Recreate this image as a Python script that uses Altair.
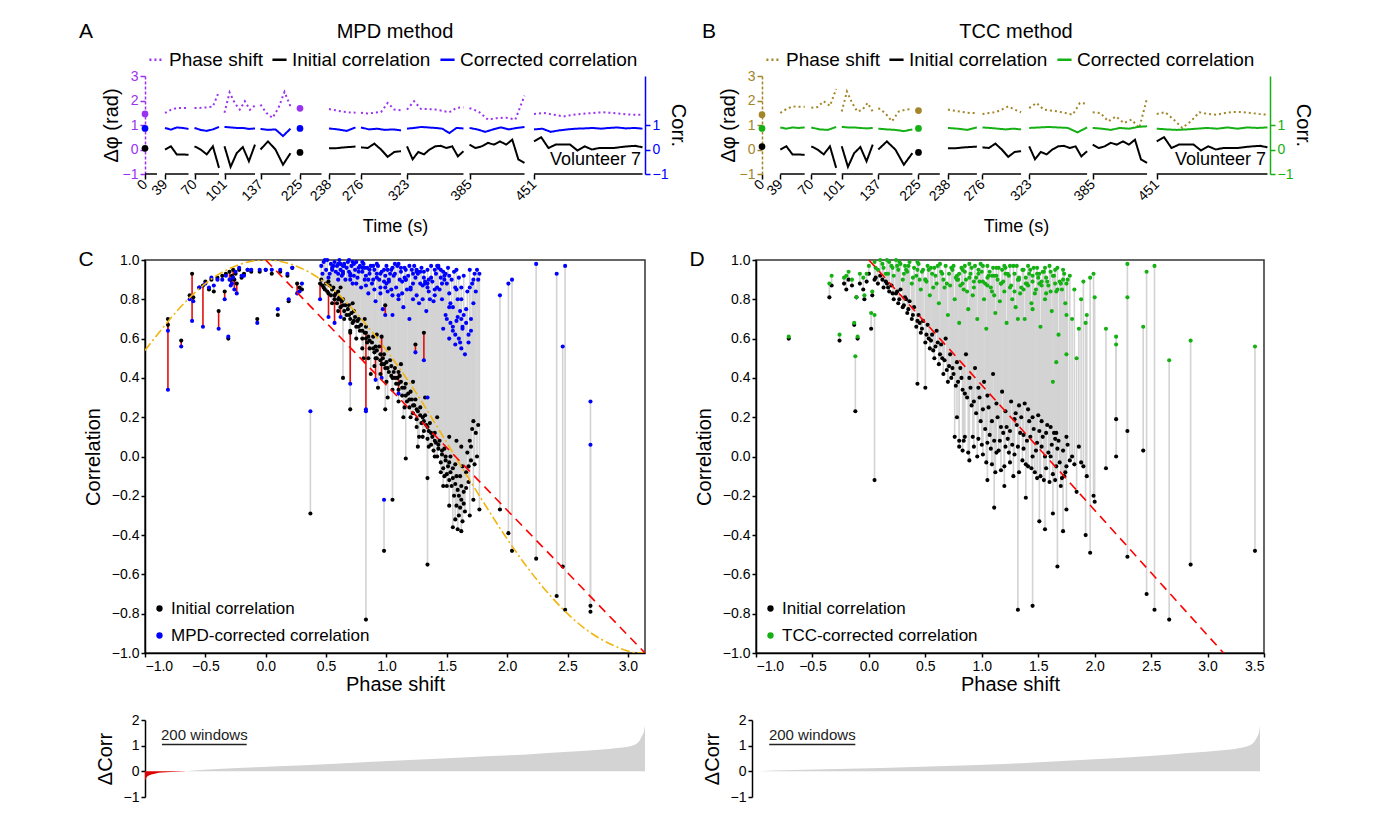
import altair as alt
import pandas as pd

FONT = "Liberation Sans"
PURPLE = "#9a33f0"
BLUE = "#0000ff"
GOLD = "#a3852a"
GREEN = "#14b014"
LGRAY = "#d3d3d3"
RED = "#e01010"
ORANGE = "#f2b50f"

# ---------------- Panels A / B : time series ----------------
SERIES = ["Phase shift", "Initial correlation", "Corrected correlation"]
time_labels = ["0", "39", "70", "101", "137", "225", "238", "276", "323", "385", "451"]
segA_start = [0, 40, 99, 159, 231, 310, 368, 432, 524, 649, 778]
segA_end = [24, 87, 148, 220, 291, 353, 421, 512, 637, 759, 995]
segB_start = [0, 36, 97, 157, 229, 308, 366, 434, 526, 651, 777]
segB_end = [0, 84, 146, 218, 296, 350, 423, 510, 640, 758, 995]

phaseA = [
    [1.45],
    [1.49, 1.62, 1.69, 1.69, 1.70],
    [1.69, 1.70, 1.72, 1.75, 2.37],
    [1.50, 2.33, 1.90, 1.63, 1.97, 1.62, 1.80],
    [1.83, 1.49, 1.29, 1.70, 2.35, 1.76],
    [1.68],
    [1.65, 1.60, 1.55, 1.52, 1.50],
    [1.50, 1.47, 1.50, 1.53, 1.90, 1.63, 1.60],
    [1.63, 1.97, 1.65, 1.65, 1.63, 1.58, 1.52, 1.70, 1.72],
    [1.69, 1.55, 1.22, 1.28, 1.30, 1.22, 2.20],
    [1.45, 1.49, 1.42, 1.35, 1.42, 1.46, 1.49, 1.52, 1.49, 1.45, 1.42, 1.42],
]
initA = [
    [0.05],
    [0.0, 0.13, -0.20, -0.20, -0.22],
    [0.13, 0.0, -0.20, 0.13, -0.75],
    [0.13, -0.71, -0.15, 0.10, -0.48, 0.20],
    [0.0, 0.33, 0.0, -0.62, -0.15],
    [-0.12],
    [0.05, 0.05, 0.08, 0.10, 0.12],
    [0.09, 0.06, 0.24, 0.0, -0.30, -0.10, -0.07],
    [0.13, -0.40, -0.10, -0.20, 0.0, 0.13, 0.15, 0.06, 0.13, -0.28, -0.07],
    [0.20, 0.06, 0.13, 0.27, 0.20, 0.33, 0.20, 0.40, -0.41, -0.55],
    [0.33, 0.50, 0.06, 0.20, 0.20, 0.20, -0.04, 0.13, 0.0, 0.06, 0.06, 0.06, 0.10, 0.13, 0.15, 0.09],
]
corrA = [
    [0.86],
    [0.88, 0.81, 0.90, 0.88, 0.84],
    [0.88, 0.80, 0.76, 0.82, 0.92],
    [0.92, 0.90, 0.88, 0.88, 0.84, 0.86],
    [0.84, 0.80, 0.82, 0.55, 0.85],
    [0.86],
    [0.86, 0.82, 0.76, 0.90],
    [0.90, 0.82, 0.85, 0.80, 0.82, 0.78],
    [0.85, 0.88, 0.92, 0.90, 0.88, 0.85, 0.67, 0.88, 0.86],
    [0.88, 0.82, 0.72, 0.82, 0.90, 0.82, 0.88, 0.92],
    [0.82, 0.85, 0.72, 0.78, 0.82, 0.85, 0.86, 0.88, 0.85, 0.88, 0.90, 0.86, 0.88, 0.85],
]
phaseB = [
    [1.42],
    [1.49, 1.65, 1.76, 1.74, 1.74],
    [1.70, 1.73, 1.97, 1.78, 2.47],
    [1.55, 2.37, 1.90, 1.55, 1.62, 1.90, 1.55],
    [1.69, 1.49, 1.15, 1.55, 1.63, 1.65],
    [1.59],
    [1.63, 1.58, 1.53, 1.49, 1.49],
    [1.45, 1.49, 1.52, 1.63, 1.76, 1.63, 1.52],
    [1.69, 1.90, 1.63, 1.59, 1.55, 1.49, 1.42, 1.90, 1.87],
    [1.52, 1.49, 1.15, 1.35, 1.08, 1.22, 0.88, 2.10],
    [1.45, 1.52, 1.22, 0.88, 1.15, 1.52, 1.45, 1.42, 1.49, 1.53, 1.53, 1.49, 1.45, 1.42],
]
initB = [[0.12]] + initA[1:]
corrB = [
    [0.86],
    [0.90, 0.85, 0.90, 0.88, 0.90],
    [0.90, 0.82, 0.80, 0.92],
    [0.92, 0.90, 0.90, 0.88, 0.86, 0.88],
    [0.85, 0.82, 0.80, 0.75, 0.82],
    [0.86],
    [0.88, 0.85, 0.80, 0.90],
    [0.90, 0.88, 0.85, 0.82, 0.85, 0.82],
    [0.88, 0.90, 0.92, 0.90, 0.88, 0.70, 0.90],
    [0.88, 0.85, 0.80, 0.88, 0.85, 0.92, 0.95],
    [0.85, 0.82, 0.80, 0.82, 0.85, 0.88, 0.85, 0.90, 0.85, 0.90, 0.88, 0.90],
]

# ---------------- Panels C / D : (phase shift, initial corr, corrected corr) ----------------
C_arc = [
    (-0.81, 0.70, 0.64), (-0.81, 0.67, 0.34), (-0.70, 0.59, 0.56), (-0.63, 0.82, 0.80),
    (-0.61, 0.93, 0.69), (-0.60, 0.81, 0.79), (-0.55, 0.86, 0.86), (-0.52, 0.87, 0.66),
    (-0.50, 0.89, 0.88), (-0.47, 0.85, 0.86), (-0.45, 0.90, 0.91), (-0.43, 0.84, 0.87),
    (-0.40, 0.91, 0.90), (-0.39, 0.74, 0.65), (-0.36, 0.92, 0.90), (-0.34, 0.84, 0.80),
    (-0.33, 0.93, 0.92), (-0.31, 0.60, 0.61), (-0.30, 0.94, 0.90), (-0.29, 0.90, 0.87),
    (-0.28, 0.92, 0.88), (-0.27, 0.95, 0.91), (-0.26, 0.90, 0.85), (-0.25, 0.93, 0.94),
    (-0.24, 0.88, 0.83), (-0.22, 0.95, 0.96), (-0.20, 0.91, 0.92), (-0.18, 0.93, 0.92),
    (-0.15, 0.95, 0.95), (-0.12, 0.94, 0.95), (-0.07, 0.70, 0.68), (-0.05, 0.94, 0.95),
    (0.00, 0.95, 0.95), (0.05, 0.93, 0.95), (0.10, 0.72, 0.75), (0.12, 0.94, 0.95),
    (0.18, 0.92, 0.93), (0.19, 0.79, 0.80), (0.22, 0.96, 0.96), (0.26, 0.88, 0.83),
    (0.28, 0.86, 0.84), (0.30, 0.85, 0.88),
]
C_band = [
    (0.46, 0.90, 0.97), (0.48, 0.86, 0.99), (0.50, 0.88, 0.95), (0.51, 0.84, 1.00),
    (0.53, 0.87, 0.93), (0.54, 0.82, 0.98), (0.55, 0.85, 0.96), (0.57, 0.80, 0.99),
    (0.58, 0.83, 0.94), (0.59, 0.78, 0.97), (0.61, 0.81, 1.00), (0.62, 0.76, 0.95),
    (0.63, 0.79, 0.92), (0.65, 0.74, 0.98), (0.66, 0.77, 0.90), (0.67, 0.72, 0.96),
    (0.68, 0.75, 0.99), (0.70, 0.70, 0.93), (0.71, 0.73, 0.97), (0.72, 0.68, 0.88),
    (0.74, 0.71, 0.95), (0.75, 0.66, 0.99), (0.76, 0.69, 0.91), (0.78, 0.64, 0.97),
    (0.79, 0.67, 0.86), (0.80, 0.60, 0.94), (0.81, 0.50, 0.98), (0.82, 0.63, 0.90),
    (0.84, 0.58, 0.96), (0.85, 0.61, 0.83), (0.86, 0.55, 0.93), (0.87, 0.42, 0.97),
    (0.88, 0.58, 0.88), (0.90, 0.53, 0.95), (0.91, 0.56, 0.79), (0.92, 0.50, 0.91),
    (0.93, 0.35, 0.97), (0.95, 0.52, 0.86), (0.96, 0.47, 0.94), (0.97, 0.50, 0.75),
    (0.99, 0.45, 0.92), (1.00, 0.48, 0.97), (1.01, 0.30, 0.84), (1.02, 0.43, 0.89),
    (1.04, 0.46, 0.95), (1.05, 0.40, 0.72), (1.06, 0.43, 0.92), (1.08, 0.37, 0.86),
    (1.09, 0.40, 0.97), (1.10, 0.34, 0.80), (1.12, 0.38, 0.94), (1.13, 0.31, 0.89),
    (1.14, 0.20, 0.76), (1.15, 0.35, 0.96), (1.17, 0.28, 0.85), (1.18, 0.32, 0.92),
    (1.19, 0.25, 0.70), (1.21, 0.29, 0.95), (1.22, 0.22, 0.88), (1.23, 0.26, 0.97),
    (1.25, 0.19, 0.82), (1.26, 0.23, 0.93), (1.27, 0.10, 0.78), (1.29, 0.17, 0.96),
    (1.30, 0.20, 0.87), (1.31, 0.13, 0.91), (1.33, 0.16, 0.74), (1.34, 0.09, 0.95),
    (1.35, 0.13, 0.84), (1.37, 0.06, 0.97), (1.38, 0.10, 0.89), (1.39, 0.03, 0.79),
    (1.41, 0.07, 0.93), (1.42, 0.00, 0.86), (1.43, 0.04, 0.97), (1.45, -0.03, 0.91),
    (1.46, 0.01, 0.80), (1.47, -0.06, 0.94), (1.49, -0.02, 0.72), (1.50, -0.09, 0.88),
    (1.51, -0.05, 0.96), (1.52, -0.12, 0.83), (1.53, -0.08, 0.68), (1.54, -0.15, 0.90),
    (1.55, -0.11, 0.76), (1.56, -0.20, 0.94), (1.57, -0.14, 0.62), (1.58, -0.25, 0.85),
    (1.59, -0.17, 0.71), (1.60, -0.30, 0.91), (1.61, -0.10, 0.58), (1.62, -0.22, 0.80),
    (1.63, -0.05, 0.66), (1.64, -0.18, 0.92), (1.65, -0.28, 0.52), (1.66, -0.08, 0.75),
    (1.67, 0.02, 0.84), (1.68, -0.13, 0.62), (1.69, 0.08, 0.95), (1.70, -0.02, 0.70),
    (1.71, 0.14, 0.88), (1.72, 0.18, 0.78), (1.73, -0.04, 0.93), (1.74, 0.12, 0.84),
    (1.75, 0.00, 0.95), (1.76, 0.16, 0.90),
    (0.52, 0.89, 0.91), (0.56, 0.86, 0.97), (0.60, 0.84, 0.93), (0.64, 0.80, 0.97),
    (0.69, 0.77, 0.94), (0.73, 0.74, 0.98), (0.77, 0.70, 0.96), (0.83, 0.66, 0.92),
    (0.89, 0.61, 0.97), (0.94, 0.56, 0.90), (0.98, 0.52, 0.95), (1.03, 0.49, 0.93),
    (1.07, 0.45, 0.98), (1.11, 0.41, 0.90), (1.16, 0.37, 0.95), (1.20, 0.33, 0.85),
    (1.24, 0.29, 0.91), (1.28, 0.25, 0.94), (1.32, 0.21, 0.88), (1.36, 0.17, 0.80),
    (1.40, 0.12, 0.95), (1.44, 0.08, 0.85), (1.48, 0.04, 0.90), (1.53, 0.00, 0.78),
    (1.57, -0.04, 0.86), (1.61, -0.26, 0.74), (1.63, -0.33, 0.65), (1.59, -0.37, 0.80),
    (1.62, -0.38, 0.70),
    (0.47, 0.87, 0.93), (0.49, 0.85, 1.00), (0.60, 0.80, 0.98), (0.64, 0.77, 0.94),
    (0.69, 0.72, 1.00), (0.73, 0.69, 0.92), (0.77, 0.66, 0.94), (0.80, 0.64, 0.99),
    (0.83, 0.60, 0.87), (0.86, 0.59, 0.95), (0.89, 0.55, 0.90), (0.92, 0.54, 0.98),
    (0.95, 0.49, 0.83), (0.98, 0.47, 0.89), (1.01, 0.45, 0.95), (1.04, 0.41, 0.85),
    (1.07, 0.40, 0.93), (1.10, 0.37, 0.98), (1.13, 0.35, 0.83), (1.16, 0.31, 0.90),
    (1.19, 0.29, 0.97), (1.22, 0.26, 0.80), (1.25, 0.24, 0.95), (1.28, 0.21, 0.88),
    (1.31, 0.18, 0.94), (1.34, 0.15, 0.86), (1.37, 0.12, 0.91), (1.40, 0.08, 0.82),
    (1.43, 0.06, 0.96), (1.46, 0.03, 0.88), (1.49, 0.00, 0.93), (1.52, -0.03, 0.76),
    (1.55, -0.06, 0.64), (1.58, -0.10, 0.69), (1.60, -0.20, 0.60), (1.62, -0.15, 0.55),
    (1.64, -0.24, 0.72), (1.66, -0.16, 0.68), (1.68, -0.05, 0.58), (1.70, 0.05, 0.64),
    (1.57, -0.32, 0.57), (1.55, -0.36, 0.66), (1.52, -0.25, 0.60), (1.47, -0.15, 0.65),
    (0.55, 0.78, 0.95), (0.60, 0.74, 0.90), (0.65, 0.70, 0.97), (0.70, 0.64, 0.92),
    (0.75, 0.60, 0.88), (0.80, 0.55, 0.96), (0.85, 0.50, 0.90), (0.90, 0.46, 0.85),
    (0.95, 0.42, 0.93), (1.00, 0.38, 0.88), (1.05, 0.34, 0.96), (1.10, 0.28, 0.82),
    (1.15, 0.25, 0.91), (1.20, 0.20, 0.86), (1.25, 0.15, 0.94), (1.30, 0.10, 0.80),
    (1.35, 0.05, 0.90), (1.40, 0.00, 0.85), (1.45, -0.08, 0.95), (1.50, -0.15, 0.70),
    (0.62, 0.86, 0.98), (0.72, 0.78, 0.99), (0.82, 0.70, 0.96), (0.92, 0.62, 0.93),
    (1.02, 0.55, 0.90), (1.12, 0.47, 0.96), (1.22, 0.38, 0.93), (1.32, 0.30, 0.89),
    (1.42, 0.20, 0.97), (1.52, 0.10, 0.92), (1.62, 0.05, 0.86), (1.58, 0.08, 0.95),
]
C_worse = [
    (0.45, 0.88, 0.80), (0.52, 0.83, 0.71), (0.57, 0.82, 0.68), (0.62, 0.80, 0.71),
    (0.70, 0.63, 0.37), (0.83, 0.63, 0.23), (0.91, 0.50, 0.39), (0.96, 0.61, 0.40),
    (0.99, 0.77, 0.72), (1.10, 0.43, 0.32), (1.24, 0.57, 0.53), (1.31, 0.63, 0.49),
]
C_outliers = [
    (0.37, -0.29, 0.23), (0.83, -0.83, 0.24), (0.98, -0.48, -0.22), (1.05, -0.22, 0.82),
    (0.64, 0.40, 0.93), (0.70, 0.24, 0.90), (0.99, 0.24, 0.86), (1.16, -0.01, 0.90),
    (1.26, 0.05, 0.94), (1.34, -0.55, 0.30), (1.34, -0.11, 0.88), (1.48, -0.10, 0.92),
    (1.69, -0.30, 0.86), (1.72, -0.22, 0.90), (1.77, -0.27, 0.93),
    (1.94, -0.27, 0.82), (2.01, -0.39, 0.88), (2.04, -0.48, 0.90), (2.24, -0.52, 0.98),
    (2.41, -0.71, 0.93), (2.46, -0.56, 0.56), (2.48, -0.78, 0.97), (2.69, -0.76, 0.28),
    (2.69, -0.79, 0.06),
]

D_left = [
    (-0.71, 0.60, 0.61), (-0.35, 0.81, 0.88), (-0.33, 0.87, 0.92), (-0.26, 0.59, 0.62),
    (-0.22, 0.88, 0.91), (-0.20, 0.85, 0.92), (-0.18, 0.90, 0.94), (-0.15, 0.87, 0.90),
    (-0.13, 0.67, 0.68), (-0.12, 0.23, 0.51), (-0.11, 0.81, 0.81), (-0.10, 0.60, 0.61),
    (-0.08, 0.88, 0.93), (-0.05, 0.85, 0.91), (-0.02, 0.89, 0.93), (0.02, 0.65, 0.73),
    (0.05, -0.12, 0.72), (-0.04, 0.80, 0.82), (0.03, 0.82, 0.84),
]
D_band = [
    (0.00, 0.93, 0.97), (0.05, 0.90, 0.99), (0.08, 0.88, 0.95), (0.10, 0.92, 1.00),
    (0.13, 0.86, 0.96), (0.15, 0.89, 0.93), (0.18, 0.84, 0.99), (0.20, 0.87, 0.97),
    (0.22, 0.80, 0.92), (0.24, 0.83, 1.00), (0.26, 0.78, 0.95), (0.28, 0.85, 0.98),
    (0.30, 0.76, 0.90), (0.32, 0.81, 0.97), (0.34, 0.73, 0.94), (0.36, 0.79, 0.99),
    (0.38, 0.70, 0.88), (0.40, 0.76, 0.96), (0.42, 0.66, 0.92), (0.44, 0.72, 0.98),
    (0.46, 0.63, 0.85), (0.48, 0.69, 0.95), (0.50, 0.58, 0.90), (0.52, 0.67, 0.97),
    (0.54, 0.55, 0.82), (0.56, 0.62, 0.93), (0.58, 0.50, 0.96), (0.60, 0.64, 0.88),
    (0.62, 0.47, 0.78), (0.64, 0.57, 0.94), (0.66, 0.42, 0.90), (0.68, 0.60, 0.97),
    (0.70, 0.38, 0.72), (0.72, 0.52, 0.87), (0.74, 0.45, 0.95), (0.76, 0.10, 0.80),
    (0.78, 0.48, 0.92), (0.80, 0.05, 0.68), (0.82, 0.40, 0.96), (0.84, 0.08, 0.85),
    (0.86, 0.52, 0.90), (0.88, 0.02, 0.75), (0.90, 0.35, 0.93), (0.92, 0.10, 0.82),
    (0.94, 0.45, 0.97), (0.96, 0.00, 0.70), (0.98, 0.30, 0.89), (1.00, 0.06, 0.94),
    (1.02, 0.38, 0.80), (1.04, -0.03, 0.65), (1.06, 0.25, 0.92), (1.08, 0.04, 0.86),
    (1.10, 0.42, 0.96), (1.12, -0.08, 0.73), (1.14, 0.20, 0.90), (1.16, 0.08, 0.79),
    (1.18, 0.33, 0.95), (1.20, -0.05, 0.84), (1.22, 0.15, 0.68), (1.24, 0.02, 0.92),
    (1.26, 0.28, 0.87), (1.28, -0.10, 0.97), (1.30, 0.22, 0.76), (1.32, 0.05, 0.90),
    (1.34, 0.12, 0.83), (1.36, -0.02, 0.95), (1.38, 0.27, 0.70), (1.40, 0.08, 0.88),
    (1.42, 0.18, 0.93), (1.44, -0.06, 0.78), (1.46, 0.14, 0.96), (1.48, 0.03, 0.85),
    (1.50, 0.21, 0.91), (1.52, -0.10, 0.66), (1.54, 0.10, 0.94), (1.56, 0.00, 0.80),
    (1.58, 0.16, 0.89), (1.60, -0.13, 0.97), (1.62, 0.06, 0.74), (1.64, 0.12, 0.92),
    (1.66, -0.05, 0.84), (1.68, 0.08, 0.62), (1.70, -0.15, 0.88), (1.72, 0.03, 0.95),
    (1.74, -0.08, 0.78), (1.76, 0.06, 0.90), (1.78, -0.02, 0.92), (1.80, 0.00, 0.70),
    (1.82, -0.04, 0.85), (1.84, -0.18, 0.50), (1.86, 0.05, 0.65), (1.88, -0.03, 0.80),
    (1.90, -0.05, 0.89), (1.92, -0.40, 0.68), (1.93, -0.10, 0.72), (1.96, -0.49, 0.91),
    (1.99, -0.20, 0.93), (2.00, -0.23, 0.81),
    (0.12, 0.90, 0.98), (0.17, 0.86, 0.93), (0.21, 0.83, 0.96), (0.27, 0.80, 0.99),
    (0.31, 0.77, 0.93), (0.35, 0.75, 0.97), (0.39, 0.72, 0.91), (0.43, 0.69, 0.99),
    (0.47, 0.65, 0.94), (0.51, 0.62, 0.89), (0.55, 0.59, 0.96), (0.59, 0.56, 0.92),
    (0.63, 0.52, 0.98), (0.67, 0.49, 0.86), (0.71, 0.46, 0.93), (0.75, 0.42, 0.97),
    (0.79, 0.38, 0.90), (0.83, 0.34, 0.95), (0.87, 0.30, 0.84), (0.91, 0.26, 0.96),
    (0.95, 0.22, 0.91), (0.99, 0.18, 0.98), (1.03, 0.14, 0.88), (1.07, 0.11, 0.94),
    (1.11, 0.08, 0.82), (1.15, 0.03, 0.96), (1.19, 0.12, 0.89), (1.23, 0.09, 0.93),
    (1.27, 0.06, 0.80), (1.31, 0.16, 0.97), (1.35, 0.20, 0.86), (1.39, -0.04, 0.91),
    (1.43, 0.10, 0.95), (1.47, -0.08, 0.83), (1.51, 0.13, 0.88), (1.55, -0.12, 0.94),
    (1.59, 0.02, 0.87), (1.63, -0.09, 0.92), (1.67, 0.04, 0.96), (1.71, -0.11, 0.85),
    (1.75, 0.10, 0.72),
    (0.80, 0.08, 0.93), (0.83, 0.03, 0.88), (0.85, 0.10, 0.97), (0.89, -0.02, 0.91),
    (0.93, 0.05, 0.86), (0.97, 0.09, 0.95), (1.01, 0.01, 0.89), (1.05, 0.07, 0.97),
    (1.09, -0.04, 0.84), (1.13, 0.02, 0.92), (1.17, -0.07, 0.88), (1.21, 0.05, 0.96),
    (1.25, -0.03, 0.86), (1.29, 0.01, 0.93), (1.33, -0.08, 0.90), (1.37, 0.04, 0.85),
    (1.41, -0.05, 0.97), (1.45, 0.00, 0.89), (1.49, -0.11, 0.93), (1.53, 0.05, 0.87),
    (1.57, -0.06, 0.91), (1.61, 0.00, 0.84), (1.65, -0.12, 0.95), (1.69, -0.03, 0.89),
    (1.73, -0.10, 0.93),
    (0.45, 0.68, 0.90), (0.53, 0.60, 0.95), (0.57, 0.54, 0.86), (0.61, 0.58, 0.97),
    (0.65, 0.50, 0.93), (0.69, 0.44, 0.88), (0.73, 0.40, 0.96), (0.77, 0.36, 0.91),
    (0.81, 0.45, 0.87), (0.85, 0.32, 0.94), (0.89, 0.40, 0.98), (0.93, 0.28, 0.89),
    (0.97, 0.35, 0.93), (1.01, 0.24, 0.97), (1.05, 0.31, 0.87), (1.09, 0.18, 0.92),
    (1.13, 0.27, 0.96), (1.17, 0.15, 0.88), (1.21, 0.23, 0.93), (1.25, 0.13, 0.97),
    (1.29, 0.19, 0.84), (1.33, 0.26, 0.91), (1.37, 0.11, 0.95), (1.41, 0.24, 0.87),
    (1.45, 0.20, 0.92), (1.49, 0.07, 0.96), (1.53, 0.18, 0.89), (1.57, 0.12, 0.83),
    (1.61, 0.15, 0.94), (1.65, 0.09, 0.88),
    (0.06, 0.91, 0.96), (0.16, 0.88, 1.00), (0.25, 0.84, 0.97), (0.33, 0.80, 0.95),
]
D_outliers = [
    (1.32, -0.78, 0.70), (1.45, -0.76, 0.75), (1.67, -0.56, 0.85), (1.72, -0.38, 0.90),
    (1.75, -0.27, 0.88), (1.51, -0.33, 0.93), (1.56, -0.37, 0.96), (1.63, -0.29, 0.38),
    (1.39, -0.21, 0.88), (1.11, -0.26, 0.92), (0.78, 0.20, 0.90), (0.43, 0.37, 0.95),
    (0.50, 0.35, 0.90), (1.20, -0.15, 0.97), (1.05, -0.12, 0.91), (1.66, 0.12, 0.48),
    (1.75, -0.05, 0.52),
    (2.10, -0.06, 0.65), (2.19, 0.19, 0.61), (2.19, 0.00, 0.57), (2.29, 0.13, 0.81),
    (2.29, -0.51, 0.98), (2.43, 0.03, 0.66), (2.46, -0.70, 0.94), (2.53, -0.78, 0.97),
    (2.66, -0.83, 0.49), (2.85, -0.55, 0.59), (3.42, -0.48, 0.56),
]

# reference curves
cos_x = [-1.0, -0.75, -0.5, -0.25, 0.0, 0.25, 0.5, 0.75, 1.0, 1.25, 1.5, 1.75, 2.0, 2.25, 2.5, 2.75, 3.0, 3.1416]
cos_y = [0.54, 0.73, 0.88, 0.97, 1.0, 0.97, 0.88, 0.73, 0.54, 0.32, 0.07, -0.18, -0.42, -0.63, -0.80, -0.92, -0.99, -1.0]
diag_x = [0.0, 3.1416]
diag_y = [1.0, -1.0]

# ---------------- sorted Delta-Corr (bottom) ----------------
dC_neg_i = [0, 3, 8, 15, 25, 40, 60, 90, 95]
dC_neg_v = [-0.38, -0.25, -0.17, -0.12, -0.08, -0.05, -0.03, -0.01, 0.0]
dC_pos_i = [95, 150, 300, 450, 600, 750, 900, 1000, 1080, 1120, 1150, 1165, 1172, 1178, 1180]
dC_pos_v = [0.0, 0.07, 0.19, 0.30, 0.42, 0.54, 0.66, 0.76, 0.85, 0.92, 1.0, 1.15, 1.35, 1.6, 1.8]
dD_pos_i = [0, 50, 150, 300, 450, 600, 720, 850, 980, 1080, 1130, 1160, 1172, 1178, 1180]
dD_pos_v = [0.0, 0.03, 0.07, 0.13, 0.21, 0.30, 0.40, 0.52, 0.67, 0.80, 0.90, 1.05, 1.3, 1.55, 1.8]
scale_bar = [40, 240]


def txt(t, x, y, size, align="center", opacity=1):
    return alt.Chart(pd.DataFrame({"t": [t]})).mark_text(
        fontSize=size, font=FONT, align=align, baseline="middle", color="black", opacity=opacity
    ).encode(text="t:N", x=alt.value(x), y=alt.value(y))


def ts_panel(starts, ends, phase, init, corr, pcol, ccol, method, letter, width, letter_x, height=98):
    rows = []
    dots = {s: [] for s in SERIES}
    for i, (s, e) in enumerate(zip(starts, ends)):
        for name, vals in zip(SERIES, (phase[i], init[i], corr[i])):
            n = len(vals)
            if n == 1:
                dots[name].append({"pos": s, "val": vals[0]})
            else:
                for k, v in enumerate(vals):
                    rows.append({"pos": s + (e - s) * k / (n - 1), "val": v, "series": name, "seg": i})
    lines = pd.DataFrame(rows)
    base = pd.DataFrame({"pos": starts, "e": ends, "val": [-1] * len(starts)})
    xsc = alt.Scale(domain=[0, 1000], nice=False, zero=False)
    ysc = alt.Scale(domain=[-1, 3], nice=False, zero=False)
    lbl = "[" + ",".join("'%s'" % l for l in time_labels) + "][indexof([" + ",".join(str(v) for v in starts) + "], datum.value)]"
    xaxis = alt.Axis(values=starts, labelExpr=lbl, labelAngle=-45, labelAlign="right", labelBaseline="middle",
                     labelOverlap=False, domain=False, title="Time (s)", titleFontSize=18, labelFontSize=14,
                     labelPadding=3, titlePadding=14)
    yl_axis = alt.Axis(orient="left", values=[-1, 0, 1, 2, 3], labelColor=pcol, tickColor=pcol, domainColor=pcol,
                       domainDash=[3, 2], title="Δφ (rad)", titlePadding=1, titleFontSize=20)
    yr_axis = alt.Axis(orient="right", values=[-1, 0, 1], labelColor=ccol, tickColor=ccol, domainColor=ccol,
                       title="Corr.", titlePadding=0, titleFontSize=20)
    X = alt.X("pos:Q", scale=xsc, axis=xaxis)
    YL = alt.Y("val:Q", scale=ysc, axis=yl_axis)
    YR = alt.Y("val:Q", scale=ysc, axis=yr_axis)
    cscale = alt.Scale(domain=SERIES, range=[pcol, "black", ccol])
    dscale = alt.Scale(domain=SERIES, range=[[2, 3], [1, 0], [1, 0]])
    leg = alt.Legend(orient="none", legendX=2, legendY=-26, direction="horizontal", title=None,
                     symbolType="stroke", symbolSize=200, symbolStrokeWidth=2.5, labelFontSize=19,
                     columnPadding=4, labelOffset=3, labelLimit=400)
    baseline = alt.Chart(base).mark_rule(color="black", strokeWidth=1.5).encode(x=X, x2="e:Q", y=YL)
    ph = alt.Chart(lines[lines.series == "Phase shift"]).mark_line(strokeWidth=2).encode(
        x=X, y=YL,
        color=alt.Color("series:N", scale=cscale, legend=leg),
        strokeDash=alt.StrokeDash("series:N", scale=dscale, legend=leg),
        detail="seg:N")
    ph_dot = alt.Chart(pd.DataFrame(dots["Phase shift"])).mark_circle(size=45, opacity=1, color=pcol).encode(x=X, y=YL)
    left = alt.layer(baseline, ph, ph_dot,
                     txt("Volunteer 7", width - 4, 84, 18, "right"),
                     txt(method, width / 2, -44, 20),
                     txt(letter, letter_x, -44, 21))
    cl = alt.Chart(lines[lines.series != "Phase shift"]).mark_line(strokeWidth=2).encode(
        x=X, y=YR,
        color=alt.Color("series:N", scale=cscale, legend=leg),
        strokeDash=alt.StrokeDash("series:N", scale=dscale, legend=leg),
        detail="seg:N")
    in_dot = alt.Chart(pd.DataFrame(dots["Initial correlation"])).mark_circle(size=45, opacity=1, color="black").encode(x=X, y=YR)
    co_dot = alt.Chart(pd.DataFrame(dots["Corrected correlation"])).mark_circle(size=45, opacity=1, color=ccol).encode(x=X, y=YR)
    right = alt.layer(cl, in_dot, co_dot)
    return alt.layer(left, right).resolve_scale(y="independent").properties(width=width, height=height)


def scatter_panel(triples, xdomain, xvals, corr_label, ccol, letter, width, with_cos, height=393):
    rules = pd.DataFrame([{"x": x, "y": a, "y1": b} for x, a, b in triples])
    up = rules[rules.y1 >= rules.y]
    down = rules[rules.y1 < rules.y]
    pts = pd.DataFrame([{"x": x, "y": a, "s": "Initial correlation"} for x, a, b in triples] +
                       [{"x": x, "y": b, "s": corr_label} for x, a, b in triples])
    xsc = alt.Scale(domain=xdomain, nice=False, zero=False)
    ysc = alt.Scale(domain=[-1, 1], nice=False, zero=False)
    xaxis = alt.Axis(values=xvals, format=".1f", title="Phase shift", titlePadding=1, labelPadding=2, tickSize=4)
    yaxis = alt.Axis(values=[-1, -0.8, -0.6, -0.4, -0.2, 0, 0.2, 0.4, 0.6, 0.8, 1.0], format=".1f",
                     title="Correlation", titlePadding=8, tickSize=4)
    X = alt.X("x:Q", scale=xsc, axis=xaxis)
    Y = alt.Y("y:Q", scale=ysc, axis=yaxis)
    layers = [alt.Chart(up).mark_rule(strokeWidth=1.6, color=LGRAY).encode(x=X, y=Y, y2="y1:Q")]
    if len(down):
        layers.append(alt.Chart(down).mark_rule(strokeWidth=1.6, color=RED).encode(x=X, y=Y, y2="y1:Q"))
    leg = alt.Legend(orient="none", legendX=6, legendY=340, title=None, labelFontSize=17, symbolType="circle",
                     symbolSize=40, rowPadding=9, labelOffset=3, labelLimit=400)
    layers.append(alt.Chart(pts).mark_circle(size=17, opacity=1).encode(
        x=X, y=Y,
        color=alt.Color("s:N", scale=alt.Scale(domain=["Initial correlation", corr_label], range=["black", ccol]),
                        legend=leg)))
    if with_cos:
        layers.append(alt.Chart(pd.DataFrame({"x": cos_x, "y": cos_y})).mark_line(
            color=ORANGE, strokeDash=[9, 3, 2, 3], strokeWidth=1.6, interpolate="natural", clip=True).encode(x=X, y=Y))
    layers.append(alt.Chart(pd.DataFrame({"x": diag_x, "y": diag_y})).mark_line(
        color="#ff0000", strokeDash=[9, 6], strokeWidth=1.6, clip=True).encode(x=X, y=Y))
    layers.append(txt(letter, -59, 0, 21))
    return alt.layer(*layers).properties(width=width, height=height,
                                         view=alt.ViewBackground(stroke="#333333", strokeWidth=1.5))


def dcorr_panel(neg_i, neg_v, pos_i, pos_v, width, letter, height=77):
    xsc = alt.Scale(domain=[0, 1180], nice=False, zero=False)
    ysc = alt.Scale(domain=[-1, 2], nice=False, zero=False)
    yaxis = alt.Axis(values=[-1, 0, 1, 2], title="ΔCorr", titlePadding=8, tickSize=4)
    X = alt.X("i:Q", scale=xsc, axis=None)
    Y = alt.Y("v:Q", scale=ysc, axis=yaxis)
    pos = pd.DataFrame({"i": pos_i, "v": pos_v, "z": [0] * len(pos_i)})
    layers = [alt.Chart(pos).mark_area(color=LGRAY, interpolate="monotone").encode(x=X, y=Y, y2="z:Q")]
    if neg_i:
        neg = pd.DataFrame({"i": neg_i, "v": neg_v, "z": [0] * len(neg_i)})
        layers.append(alt.Chart(neg).mark_area(color="#dd0000", interpolate="monotone").encode(x=X, y=Y, y2="z:Q"))
    bar = pd.DataFrame({"i": [scale_bar[0]], "b": [scale_bar[1]], "v": [1.05]})
    lab = pd.DataFrame({"i": [(scale_bar[0] + scale_bar[1]) / 2], "v": [1.42], "t": ["200 windows"]})
    layers.append(alt.Chart(bar).mark_rule(color="#222222", strokeWidth=1.5).encode(x=X, x2="b:Q", y=Y))
    layers.append(alt.Chart(lab).mark_text(fontSize=15, font=FONT, color="#222222").encode(x=X, y=Y, text="t:N"))
    layers.append(txt(letter, -59, 20, 21, opacity=0))
    return alt.layer(*layers).properties(width=width, height=height)


WL, WR = 500, 508
A = ts_panel(segA_start, segA_end, phaseA, initA, corrA, PURPLE, BLUE, "MPD method", "A", WL, -59)
B = ts_panel(segB_start, segB_end, phaseB, initB, corrB, GOLD, GREEN, "TCC method", "B", WR, -53)
C = scatter_panel(C_arc + C_band + C_worse + C_outliers, [-1, 3.1416],
                  [-1, -0.5, 0, 0.5, 1, 1.5, 2, 2.5, 3], "MPD-corrected correlation", BLUE, "C", WL, True)
D = scatter_panel(D_left + D_band + D_outliers, [-1, 3.5],
                  [-1, -0.5, 0, 0.5, 1, 1.5, 2, 2.5, 3, 3.5], "TCC-corrected correlation", GREEN, "D", WR, False)
Cb = dcorr_panel(dC_neg_i, dC_neg_v, dC_pos_i, dC_pos_v, WL, "C")
Db = dcorr_panel([], [], dD_pos_i, dD_pos_v, WR, "D")

row1 = alt.hconcat(A, B, spacing=13).resolve_scale(color="independent", strokeDash="independent")
row2 = alt.hconcat(C, D, spacing=42).resolve_scale(color="independent")
row3 = alt.hconcat(Cb, Db, spacing=40)
lower = alt.vconcat(row2, row3, spacing=18)
chart = alt.vconcat(row1, lower, spacing=12).resolve_scale(color="independent", strokeDash="independent").properties(
    padding={"left": 69, "top": 13, "right": 5, "bottom": 5}
).configure(font=FONT).configure_view(stroke=None).configure_axis(
    labelFont=FONT, titleFont=FONT, labelFontSize=14, titleFontSize=20, titleFontWeight="normal",
    grid=False, tickColor="black", domainColor="black", labelColor="black", titleColor="black",
    tickSize=5, domainWidth=1.5, tickWidth=1.5
).configure_legend(labelFont=FONT)

chart.save("out.html", embed_options={"renderer": "svg", "actions": False})
